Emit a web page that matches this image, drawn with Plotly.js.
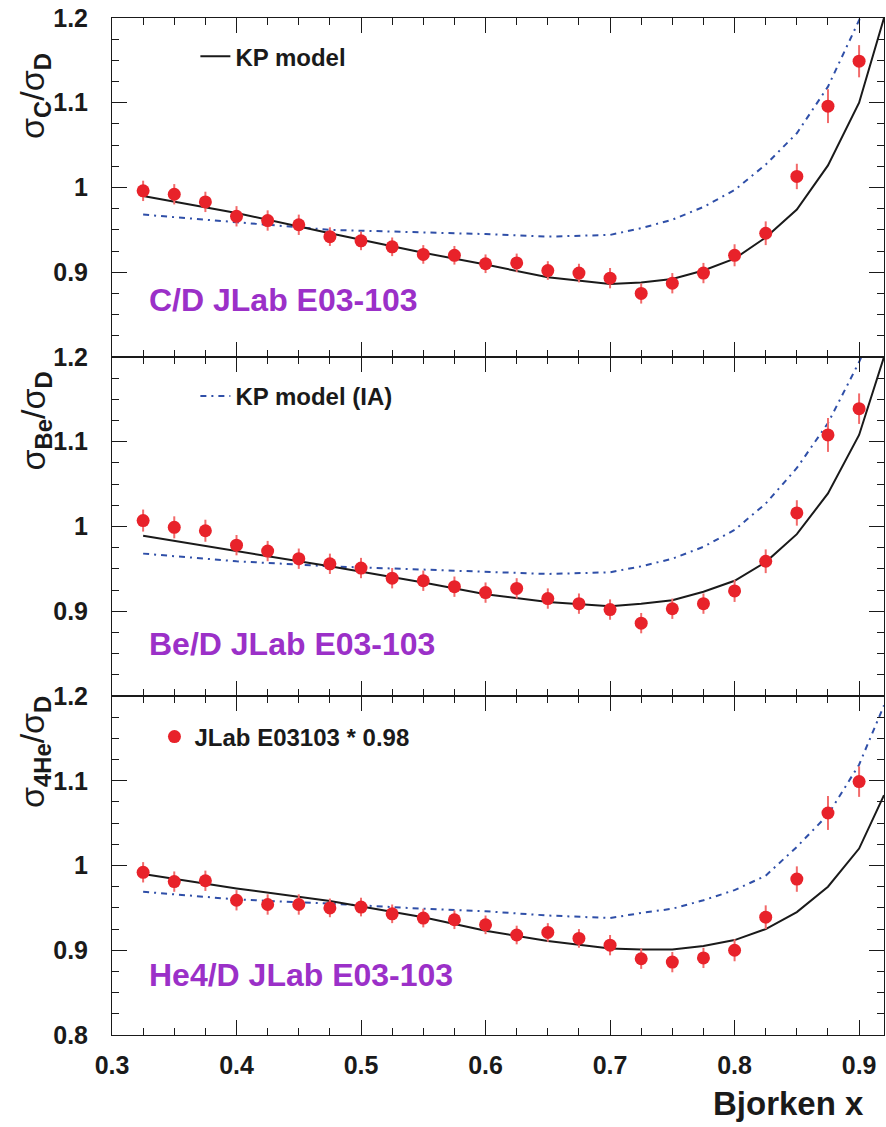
<!DOCTYPE html>
<html>
<head>
<meta charset="utf-8">
<script src="https://cdn.plot.ly/plotly-3.0.1.min.js"></script>
<style>html,body{margin:0;padding:0;background:#fff;}#chart{width:886px;height:1127px;}</style>
</head>
<body>
<div id="chart"></div>
<script>
// ---- data ----
const xData = [0.325,0.35,0.375,0.4,0.425,0.45,0.475,0.5,0.525,0.55,0.575,0.6,0.625,0.65,0.675,0.7,0.725,0.75,0.775,0.8,0.825,0.85,0.875,0.9];
const cdRatio = [0.996,0.992,0.983,0.966,0.961,0.956,0.942,0.937,0.930,0.921,0.920,0.910,0.911,0.902,0.899,0.893,0.875,0.887,0.899,0.920,0.946,1.013,1.096,1.149];
const cdErr   = [0.012,0.012,0.012,0.012,0.012,0.012,0.011,0.011,0.011,0.011,0.011,0.011,0.011,0.011,0.011,0.012,0.012,0.012,0.012,0.013,0.014,0.015,0.020,0.019];
const beRatio = [1.007,0.999,0.995,0.978,0.971,0.962,0.956,0.951,0.939,0.936,0.929,0.922,0.927,0.915,0.909,0.902,0.886,0.903,0.909,0.924,0.959,1.016,1.108,1.139];
const beErr   = [0.013,0.013,0.013,0.012,0.012,0.012,0.012,0.012,0.012,0.012,0.012,0.012,0.012,0.012,0.012,0.012,0.012,0.012,0.012,0.013,0.014,0.015,0.020,0.018];
const heRatio = [0.992,0.981,0.982,0.959,0.954,0.954,0.950,0.951,0.943,0.938,0.936,0.930,0.918,0.921,0.914,0.906,0.890,0.886,0.891,0.900,0.939,0.984,1.062,1.099];
const heErr   = [0.012,0.012,0.012,0.012,0.012,0.012,0.011,0.011,0.011,0.011,0.011,0.011,0.011,0.011,0.011,0.012,0.012,0.012,0.012,0.013,0.014,0.015,0.020,0.018];

const modelX  = [0.325,0.4,0.475,0.55,0.6,0.65,0.7,0.725,0.75,0.775,0.8,0.825,0.85,0.875,0.9,0.92];
const cdKP    = [0.990,0.970,0.946,0.923,0.909,0.894,0.886,0.888,0.892,0.902,0.916,0.941,0.974,1.026,1.100,1.200];
const cdIA    = [0.968,0.959,0.950,0.947,0.945,0.942,0.944,0.952,0.962,0.977,0.997,1.027,1.064,1.119,1.196,1.260];
const beKP    = [0.989,0.971,0.953,0.934,0.920,0.911,0.906,0.909,0.913,0.923,0.936,0.958,0.991,1.039,1.108,1.200];
const beIA    = [0.968,0.959,0.953,0.949,0.946,0.944,0.946,0.953,0.962,0.976,0.996,1.027,1.069,1.122,1.194,1.260];
const heKP    = [0.990,0.973,0.958,0.939,0.923,0.911,0.902,0.901,0.901,0.905,0.912,0.925,0.945,0.975,1.020,1.083];
const heIA    = [0.969,0.960,0.955,0.949,0.946,0.941,0.938,0.944,0.949,0.959,0.971,0.988,1.022,1.060,1.119,1.189];

const xTicks = ['0.3','0.4','0.5','0.6','0.7','0.8','0.9'];
const panelLabels = ['C/D JLab E03-103','Be/D JLab E03-103','He4/D JLab E03-103'];
const yTitles = ['σ<sub><b>C</b></sub>/σ<sub><b>D</b></sub>','σ<sub><b>Be</b></sub>/σ<sub><b>D</b></sub>','σ<sub><b>4He</b></sub>/σ<sub><b>D</b></sub>'];
const legendNames = ['KP model','KP model (IA)','JLab E03103 * 0.98'];

// ---- styles ----
const FONT = 'Liberation Sans, Arial, sans-serif';
const RED = '#e8222a';
const ERRC = '#f26a6a';
const BLUE = '#2f4fa8';
const PURPLE = '#9b30c8';
const INK = '#1a1a1a';

function panelTraces(xa, ya, ratio, err, kp, ia, legendIdx) {
  return [
    {x: modelX, y: ia, xaxis: xa, yaxis: ya, type: 'scatter', mode: 'lines',
     line: {color: BLUE, width: 2, dash: '6px,5px,2px,5px'},
     name: legendNames[1], legend: 'legend2', showlegend: legendIdx === 1, hoverinfo: 'skip'},
    {x: modelX, y: kp, xaxis: xa, yaxis: ya, type: 'scatter', mode: 'lines',
     line: {color: INK, width: 2},
     name: legendNames[0], legend: 'legend', showlegend: legendIdx === 0, hoverinfo: 'skip'},
    {x: xData, y: ratio, xaxis: xa, yaxis: ya, type: 'scatter', mode: 'markers',
     marker: {color: RED, size: 13},
     error_y: {type: 'data', array: err, visible: true, color: ERRC, thickness: 2, width: 0},
     name: legendNames[2], legend: 'legend3', showlegend: legendIdx === 2, hoverinfo: 'skip'}
  ];
}

const data = [].concat(
  panelTraces('x3', 'y3', cdRatio, cdErr, cdKP, cdIA, 0),
  panelTraces('x2', 'y2', beRatio, beErr, beKP, beIA, 1),
  panelTraces('x',  'y',  heRatio, heErr, heKP, heIA, 2)
);

function xAxis(anchor, showLabels) {
  return {
    anchor: anchor, range: [0.3, 0.92], tickmode: 'array', tickvals: xTicks.map(Number), ticktext: xTicks,
    ticks: 'inside', ticklen: 15, tickwidth: 1, tickcolor: INK,
    minor: {dtick: 0.025, tick0: 0.3, ticks: 'inside', ticklen: 7, tickwidth: 1, tickcolor: INK},
    showline: true, linecolor: INK, linewidth: 1, mirror: 'ticks',
    showgrid: false, zeroline: false, showticklabels: showLabels,
    tickfont: {family: FONT, size: 25, weight: 'bold', color: INK},
    ticklabelstandoff: 8, fixedrange: true
  };
}
function yAxis(domain, hideBottom) {
  const ax = {
    domain: domain, range: [0.8, 1.2], tick0: 0.8, dtick: 0.1,
    ticks: 'inside', ticklen: 15, tickwidth: 1, tickcolor: INK,
    minor: {dtick: 0.025, tick0: 0.8, ticks: 'inside', ticklen: 7, tickwidth: 1, tickcolor: INK},
    showline: true, linecolor: INK, linewidth: 1, mirror: 'ticks',
    showgrid: false, zeroline: false,
    tickfont: {family: FONT, size: 25, weight: 'bold', color: INK},
    ticklabelstandoff: 18, fixedrange: true
  };
  if (hideBottom) ax.labelalias = {'0.8': ' '};
  return ax;
}

const annotations = [];
const yaxNames = ['y3', 'y2', 'y'];
const labelY = [0.168, 0.152, 0.177];
// panel labels
for (let i = 0; i < 3; i++) {
  annotations.push({
    text: panelLabels[i], xref: 'x', yref: yaxNames[i] + ' domain', x: 0.3, xshift: 35,
    y: labelY[i], xanchor: 'left', yanchor: 'middle', showarrow: false,
    font: {family: FONT, size: 32, weight: 'bold', color: PURPLE}
  });
}
// y titles
const titleY = [0.77, 0.81, 0.835];
for (let i = 0; i < 3; i++) {
  annotations.push({
    text: yTitles[i], xref: 'paper', yref: yaxNames[i] + ' domain', x: 0, xshift: -77,
    y: titleY[i], xanchor: 'center', yanchor: 'middle', textangle: -90, showarrow: false,
    font: {family: FONT, size: 34, color: INK}
  });
}
annotations.push({
  text: 'Bjorken x', xref: 'paper', yref: 'paper', x: 1, xshift: -18, y: 0, yshift: -68,
  xanchor: 'right', yanchor: 'middle', showarrow: false,
  font: {family: FONT, size: 33, weight: 'bold', color: INK}
});

const legFont = {family: FONT, size: 24, weight: 'bold', color: INK};
const layout = {
  width: 886, height: 1127,
  margin: {l: 112, r: 2, t: 18, b: 92},
  paper_bgcolor: '#fff', plot_bgcolor: '#fff',
  xaxis: xAxis('y', true),
  xaxis2: Object.assign(xAxis('y2', false), {matches: 'x'}),
  xaxis3: Object.assign(xAxis('y3', false), {matches: 'x'}),
  yaxis: yAxis([0, 0.3333], false),
  yaxis2: yAxis([0.3333, 0.6667], true),
  yaxis3: yAxis([0.6667, 1.0], true),
  legend: {x: 0.108, y: 0.962, xanchor: 'left', yanchor: 'middle', font: legFont, bgcolor: 'rgba(0,0,0,0)', borderwidth: 0},
  legend2: {x: 0.108, y: 0.628, xanchor: 'left', yanchor: 'middle', font: legFont, bgcolor: 'rgba(0,0,0,0)', borderwidth: 0},
  legend3: {x: 0.055, y: 0.293, xanchor: 'left', yanchor: 'middle', font: legFont, bgcolor: 'rgba(0,0,0,0)', borderwidth: 0},
  annotations: annotations,
  showlegend: true
};

Plotly.newPlot('chart', data, layout, {displayModeBar: false, staticPlot: true});
</script>
</body>
</html>
